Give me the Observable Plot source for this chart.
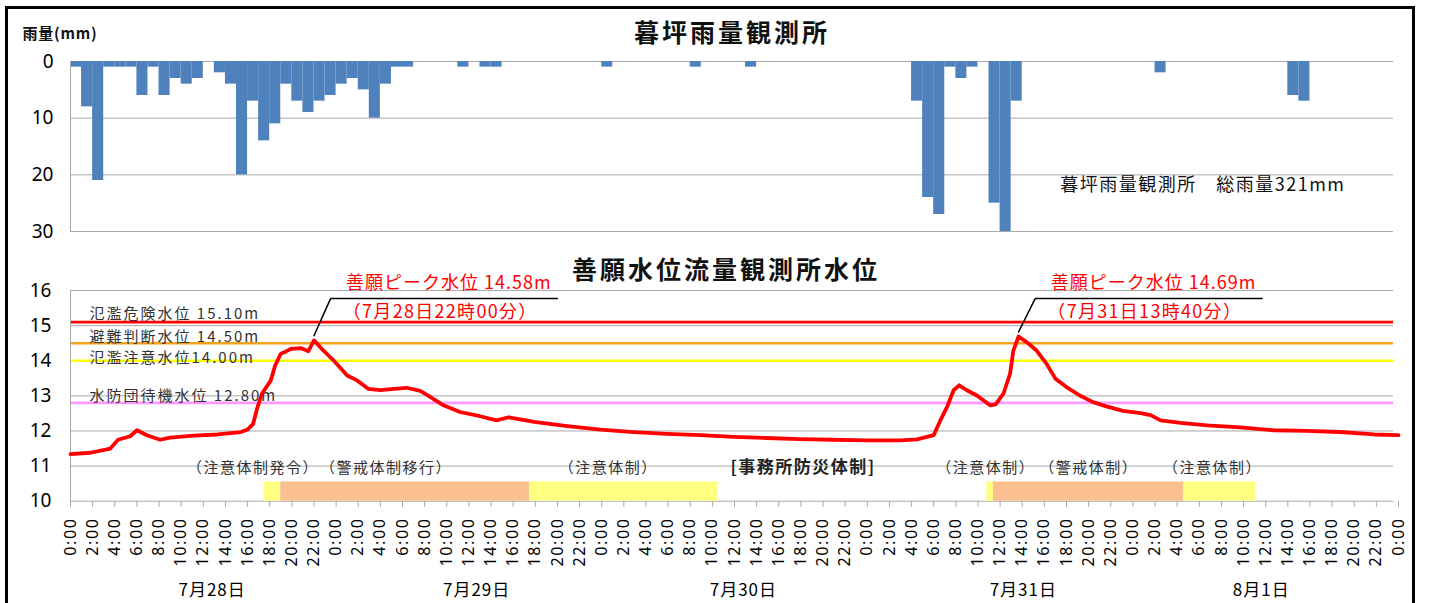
<!DOCTYPE html>
<html><head><meta charset="utf-8">
<script src="https://cdn.jsdelivr.net/npm/d3@7"></script>
<script src="https://cdn.jsdelivr.net/npm/@observablehq/plot@0.6"></script>
<style>
html,body{margin:0;padding:0;background:#fff;}
#wrap{position:relative;width:1431px;height:603px;overflow:hidden;background:#fff;}
#frame{position:absolute;left:5px;top:6px;width:1410px;height:640px;border:3px solid #000;box-sizing:border-box;pointer-events:none;}
#topChart,#bottomChart{position:absolute;left:0;}
#topChart{top:0;}
#bottomChart{top:250px;}
</style></head>
<body><div id="wrap"><div id="topChart"></div><div id="bottomChart"></div><div id="frame"></div></div>
<script>
// ---------- DATA ----------
// hourly rainfall (hour index from 7/28 0:00), mm
const rainHour = [0,1,2,3,4,5,6,7,8,9,10,11,13,14,15,16,17,18,19,20,21,22,23,24,25,26,27,28,29,30,35,37,38,48,56,61,76,77,78,79,80,81,83,84,85,98,110,111];
const rainMm   = [1,8,21,1,1,1,6,1,6,3,4,3,2,4,20,7,14,11,4,7,9,7,6,4,3,5,10,4,1,1,1,1,1,1,1,1,7,24,27,1,3,1,25,30,7,2,6,7];
const rainTicks = [0,10,20,30];

// water level (hours from 7/28 0:00), m
const levelHour = [0,1.8,3.6,4.3,5.4,6.0,6.9,8.1,9.0,11.1,13.3,15.4,16.0,16.5,16.9,17.3,18.1,18.5,19.0,19.4,19.9,20.8,21.5,22.0,22.7,23.8,25.0,25.9,26.9,28.0,29.2,30.4,31.6,32.5,33.7,35.2,37.0,38.5,39.6,41.9,44.9,47.9,50.9,53.9,56.9,59.9,62.9,65.9,68.9,72.0,75.0,76.5,78.0,78.6,79.2,79.8,80.3,81.0,81.9,83.1,83.6,84.3,84.9,85.2,85.67,86.4,87.3,88.2,89.0,90.0,91.2,92.4,93.6,95.1,96.7,97.6,98.5,100.3,102.7,105.7,108.7,111.7,114.7,117.8,120.0];
const levelValue = [11.34,11.38,11.50,11.75,11.85,12.02,11.88,11.75,11.81,11.87,11.90,11.97,12.04,12.20,12.68,13.06,13.44,13.87,14.20,14.25,14.34,14.36,14.27,14.58,14.34,14.00,13.58,13.44,13.20,13.16,13.20,13.23,13.14,12.97,12.73,12.54,12.42,12.30,12.39,12.26,12.14,12.04,11.97,11.92,11.88,11.83,11.80,11.77,11.75,11.73,11.73,11.76,11.88,12.30,12.68,13.16,13.30,13.16,13.01,12.73,12.76,13.06,13.63,14.29,14.69,14.53,14.29,13.91,13.49,13.25,13.01,12.82,12.70,12.57,12.51,12.45,12.30,12.23,12.16,12.10,12.02,12.00,11.97,11.90,11.88];
const levelTicks = [10,11,12,13,14,15,16];

// reference water levels
const thresholdValue = [15.10, 14.50, 14.00, 12.80];
const thresholdLabel = ["氾濫危険水位 15.10m", "避難判断水位 14.50m", "氾濫注意水位14.00m", "水防団待機水位 12.80m"];

// peaks
const peakHour  = [22.0, 85.67];
const peakValue = [14.58, 14.69];
const peakTitle = ["善願ピーク水位 14.58m", "善願ピーク水位 14.69m"];
const peakTime  = ["（7月28日22時00分）", "（7月31日13時40分）"];

// office disaster-response phases (hours)
const phaseStart = [17.5, 19.0, 41.5, 82.8, 83.4, 100.6];
const phaseEnd   = [19.0, 41.5, 58.5, 83.4, 100.6, 107.1];
const phaseType  = ["注意", "警戒", "注意", "注意", "警戒", "注意"];
const phaseLabelHour = [16.5, 28.5, 48.6, 82.7, 92.0, 103.2];
const phaseLabelText = ["（注意体制発令）", "（警戒体制移行）", "（注意体制）", "（注意体制）", "（警戒体制）", "（注意体制）"];
const officeLabelHour = [66.2];
const officeLabelText = ["[事務所防災体制]"];

// x axis
const tickHours = d3.range(0, 121, 2);
const dayLabelHour = [12.8, 36.7, 60.8, 86.1, 107.6];
const dayLabelText = ["7月28日", "7月29日", "7月30日", "7月31日", "8月1日"];

const rainTitle = "暮坪雨量観測所";
const rainUnit = "雨量(mm)";
const rainTotal = "暮坪雨量観測所　総雨量321mm";
const levelTitle = "善願水位流量観測所水位";

// ---------- STYLE ----------
const JP = '"Noto Sans CJK JP","Noto Sans",sans-serif';
const LAT = '"Noto Sans","DejaVu Sans",sans-serif';
const grid = "#a9a9a9";
const thresholdColor = ["#ff0000", "#f5a21b", "#ffff00", "#ff99ff"];
const thresholdDy = [-3, -1, 2, -2];
const phaseColor = {"注意": "#ffff80", "警戒": "#fac090"};

const rain = rainHour.map((h, i) => ({h, mm: rainMm[i]}));
const level = levelHour.map((h, i) => ({h, v: levelValue[i]}));
const thresholds = thresholdValue.map((v, i) => ({v, label: thresholdLabel[i]}));
const peaks = peakHour.map((t, i) => ({t, v: peakValue[i], title: peakTitle[i], time: peakTime[i]}));
const phases = phaseStart.map((s, i) => ({s, e: phaseEnd[i], type: phaseType[i]}));
const phaseLabels = phaseLabelHour.map((h, i) => ({h, text: phaseLabelText[i]}));
const officeLabels = officeLabelHour.map((h, i) => ({h, text: officeLabelText[i]}));
const days = dayLabelHour.map((h, i) => ({h, text: dayLabelText[i]}));

const W = 1431;
const X = {domain: [0, 120], range: [70, 1398], axis: null};

// ---------- TOP: rainfall ----------
const rainPlot = Plot.plot({
  width: W, height: 250,
  marginLeft: 70, marginRight: 38, marginTop: 61, marginBottom: 19,
  style: {fontFamily: JP, background: "transparent", overflow: "visible"},
  x: X,
  y: {domain: [0, 30], range: [61, 231], axis: null},
  marks: [
    Plot.ruleY(rainTicks, {stroke: grid, strokeWidth: 1}),
    Plot.rect(rain, {x1: "h", x2: d => d.h + 1, y1: 0, y2: "mm", fill: "#4f81bd"}),
    Plot.ruleX([0], {y1: 0, y2: 30, stroke: grid}),
    Plot.axisY({ticks: rainTicks, tickFormat: d => String(d), label: null, tickSize: 0, tickPadding: 17, fontSize: 19, fontFamily: LAT, fill: "#000"}),
    Plot.text([rainTitle], {text: d => d, frameAnchor: "top", dy: -28, fontSize: 25, fontWeight: "bold", fill: "#111", lineAnchor: "middle"}),
    Plot.text([rainUnit], {text: d => d, frameAnchor: "top-left", textAnchor: "start", dx: -48, dy: -27, fontSize: 15, fontWeight: "bold", fill: "#111", lineAnchor: "middle"}),
    Plot.text([rainTotal], {text: d => d, frameAnchor: "right", textAnchor: "end", dx: -48, dy: 39, fontSize: 18, fill: "#111", lineAnchor: "middle"})
  ]
});
document.getElementById("topChart").appendChild(rainPlot);

// ---------- BOTTOM: water level ----------
const leaders = peaks.map(p => [
  {x: p.t, y: p.v + 0.13}, {x: p.t + 1.5, y: 15.77}, {x: p.t + 22, y: 15.77}
]);

const levelPlot = Plot.plot({
  width: W, height: 353,
  marginLeft: 70, marginRight: 38, marginTop: 40, marginBottom: 102,
  style: {fontFamily: JP, background: "transparent", overflow: "visible"},
  x: X,
  y: {domain: [10, 16], range: [250.7, 40], axis: null},
  marks: [
    Plot.ruleY(levelTicks, {stroke: grid, strokeWidth: 1}),
    Plot.rect(phases, {x1: "s", x2: "e", y1: 10, y2: 10.55, fill: d => phaseColor[d.type]}),
    ...thresholds.map((t, i) => Plot.ruleY([t], {y: "v", stroke: thresholdColor[i], strokeWidth: 2.6})),
    ...thresholds.map((t, i) => Plot.text([t], {y: "v", text: "label", frameAnchor: "left", textAnchor: "start", dx: 19, dy: thresholdDy[i], lineAnchor: "bottom", fontSize: 15, fill: "#333"})),
    Plot.ruleX([0], {y1: 10, y2: 16, stroke: grid}),
    Plot.line(level, {x: "h", y: "v", stroke: "#ff0000", strokeWidth: 3.8, strokeLinejoin: "round"}),
    ...leaders.map(l => Plot.line(l, {x: "x", y: "y", stroke: "#000", strokeWidth: 1.5})),
    Plot.text(peaks, {x: d => d.t + 2.9, y: () => 16.2, text: "title", textAnchor: "start", fontSize: 18, fill: "#ff0000", lineAnchor: "middle"}),
    Plot.text(peaks, {x: d => d.t + 2.6, y: () => 15.37, text: "time", textAnchor: "start", fontSize: 18, fill: "#ff0000", lineAnchor: "middle"}),
    Plot.text(phaseLabels, {x: "h", y: () => 10.95, text: "text", fontSize: 15, fill: "#333", lineAnchor: "middle"}),
    Plot.text(officeLabels, {x: "h", y: () => 10.95, text: "text", fontSize: 17, fontWeight: "bold", fill: "#222", lineAnchor: "middle"}),
    Plot.axisY({ticks: levelTicks, tickFormat: d => String(d), label: null, tickSize: 0, tickPadding: 19, fontSize: 19, fontFamily: LAT, fill: "#000"}),
    Plot.axisX({ticks: tickHours, tickFormat: h => `${h % 24}:00`, tickRotate: -90, tickSize: 6, tickPadding: 10,
      fontSize: 16, fontFamily: LAT, stroke: grid, fill: "#000", label: null}),
    Plot.text(days, {x: "h", text: "text", frameAnchor: "bottom", dy: 89, fontSize: 17, fill: "#000", lineAnchor: "middle"}),
    Plot.text([levelTitle], {text: d => d, frameAnchor: "top", dx: -6, dy: -20, fontSize: 25, fontWeight: "bold", fill: "#111", lineAnchor: "middle"})
  ]
});
document.getElementById("bottomChart").appendChild(levelPlot);

// ---------- letter spacing (the reference font is wider) ----------
const spacing = [
  [s => s === rainTitle || s === levelTitle, "3px"],
  [s => /^\d+:00$/.test(s), "1.6px"],
  [s => thresholdLabel.includes(s), "2px"],
  [s => phaseLabelText.includes(s) || officeLabelText.includes(s), "1.5px"],
  [s => peakTitle.includes(s), "1px"],
  [s => peakTime.includes(s), "1.3px"],
  [s => s === rainTotal, "1.5px"],
  [s => s === rainUnit, "0.8px"],
  [s => dayLabelText.includes(s), "1px"]
];
for (const svg of [rainPlot, levelPlot]) {
  svg.querySelectorAll("text").forEach(t => {
    const s = t.textContent;
    for (const [test, ls] of spacing) if (test(s)) { t.style.letterSpacing = ls; t.setAttribute("letter-spacing", ls); break; }
  });
}
</script></body></html>
